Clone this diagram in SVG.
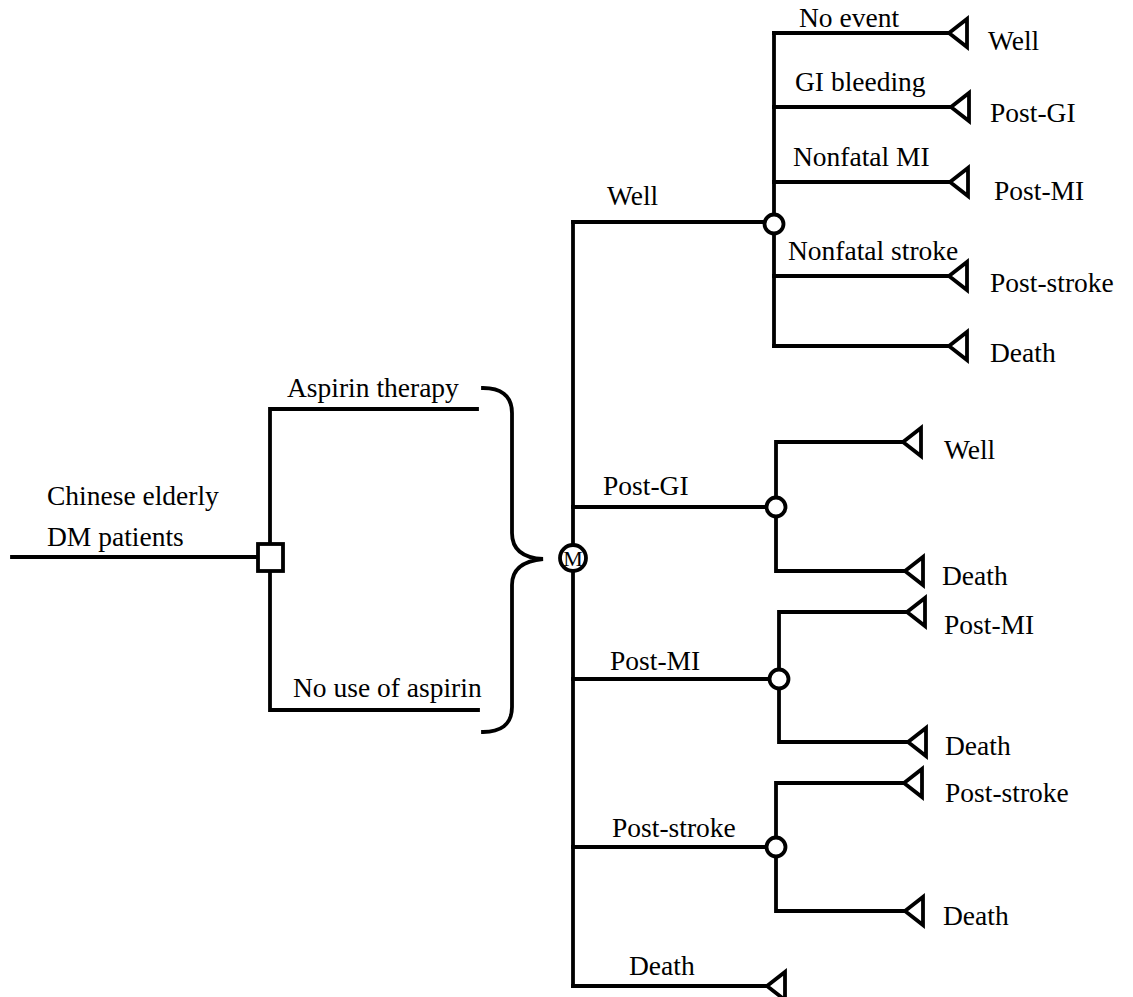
<svg xmlns="http://www.w3.org/2000/svg" width="1133" height="997" viewBox="0 0 1133 997" font-family="Liberation Serif, Times New Roman, DejaVu Serif, serif">
<defs>
<style>
.ln{stroke:#000;stroke-width:3.8;fill:none;stroke-linecap:square}
.nd{stroke:#000;stroke-width:3.8;fill:#fff}
.t{font-family:Liberation Serif, Times New Roman, DejaVu Serif, serif;font-size:27.5px;fill:#000}
.m{font-family:Liberation Serif, Times New Roman, DejaVu Serif, serif;font-size:22px;fill:#000}
</style>
<path id="tri" d="M0,0 L18,-14 L18,14 Z" stroke="#000" stroke-width="3.8" fill="#fff" stroke-linejoin="miter"/>
</defs>
<rect width="1133" height="997" fill="#fff"/>
<g id="connectors">
<path class="ln" d="M12,557 H258"/>
<path class="ln" d="M270,409 H477 M270,409 V710 H478"/>
<path class="ln" d="M483,388 C500,388 512,395 512,413 L512,533 C512,550 524,558 543,559 C524,561 512,568 512,585 L512,707 C512,725 500,732 483,732"/>
<path class="ln" d="M573,222 V986"/>
<path class="ln" d="M573,222 H765"/>
<path class="ln" d="M573,507 H766"/>
<path class="ln" d="M573,679 H769"/>
<path class="ln" d="M573,847 H766"/>
<path class="ln" d="M573,986 H767"/>
<path class="ln" d="M774,33 V346"/>
<path class="ln" d="M774,33 H949 M774,107 H951 M774,182 H950 M774,276 H949 M774,346 H949"/>
<path class="ln" d="M776,442 V571 M776,442 H903 M776,571 H905"/>
<path class="ln" d="M779,612 V742 M779,612 H907 M779,742 H908"/>
<path class="ln" d="M776,783 V911 M776,783 H904 M776,911 H905"/>
</g>
<g id="root"><rect class="nd" x="258" y="544" width="25" height="27"/>
<text class="t" x="47" y="505">Chinese elderly</text>
<text class="t" x="47" y="546">DM patients</text></g>
<g id="arm-aspirin"><text class="t" x="287" y="397">Aspirin therapy</text></g>
<g id="arm-none"><text class="t" x="293" y="697">No use of aspirin</text></g>
<g id="markov"><circle class="nd" cx="573" cy="558" r="13"/><text class="m" x="573" y="566" text-anchor="middle">M</text></g>
<g id="state-well">
<text class="t" x="607" y="205">Well</text>
<circle class="nd" cx="774" cy="224" r="9.5"/>
<text class="t" x="799" y="27">No event</text>
<text class="t" x="795" y="91">GI bleeding</text>
<text class="t" x="793" y="166">Nonfatal MI</text>
<text class="t" x="788" y="260">Nonfatal stroke</text>
<use href="#tri" x="949" y="33"/><text class="t" x="988" y="50">Well</text>
<use href="#tri" x="951" y="107"/><text class="t" x="990" y="122">Post-GI</text>
<use href="#tri" x="950" y="182"/><text class="t" x="994" y="200">Post-MI</text>
<use href="#tri" x="949" y="276"/><text class="t" x="990" y="292">Post-stroke</text>
<use href="#tri" x="949" y="346"/><text class="t" x="990" y="362">Death</text>
</g>
<g id="state-postgi">
<text class="t" x="603" y="495">Post-GI</text>
<circle class="nd" cx="776" cy="507" r="9.5"/>
<use href="#tri" x="903" y="442"/><text class="t" x="944" y="459">Well</text>
<use href="#tri" x="905" y="571"/><text class="t" x="942" y="585">Death</text>
</g>
<g id="state-postmi">
<text class="t" x="610" y="670">Post-MI</text>
<circle class="nd" cx="779" cy="679" r="9.5"/>
<use href="#tri" x="907" y="612"/><text class="t" x="944" y="634">Post-MI</text>
<use href="#tri" x="908" y="742"/><text class="t" x="945" y="755">Death</text>
</g>
<g id="state-poststroke">
<text class="t" x="612" y="837">Post-stroke</text>
<circle class="nd" cx="776" cy="847" r="9.5"/>
<use href="#tri" x="904" y="783"/><text class="t" x="945" y="802">Post-stroke</text>
<use href="#tri" x="905" y="911"/><text class="t" x="943" y="925">Death</text>
</g>
<g id="state-death">
<text class="t" x="629" y="975">Death</text>
<use href="#tri" x="767" y="986"/>
</g>
</svg>
